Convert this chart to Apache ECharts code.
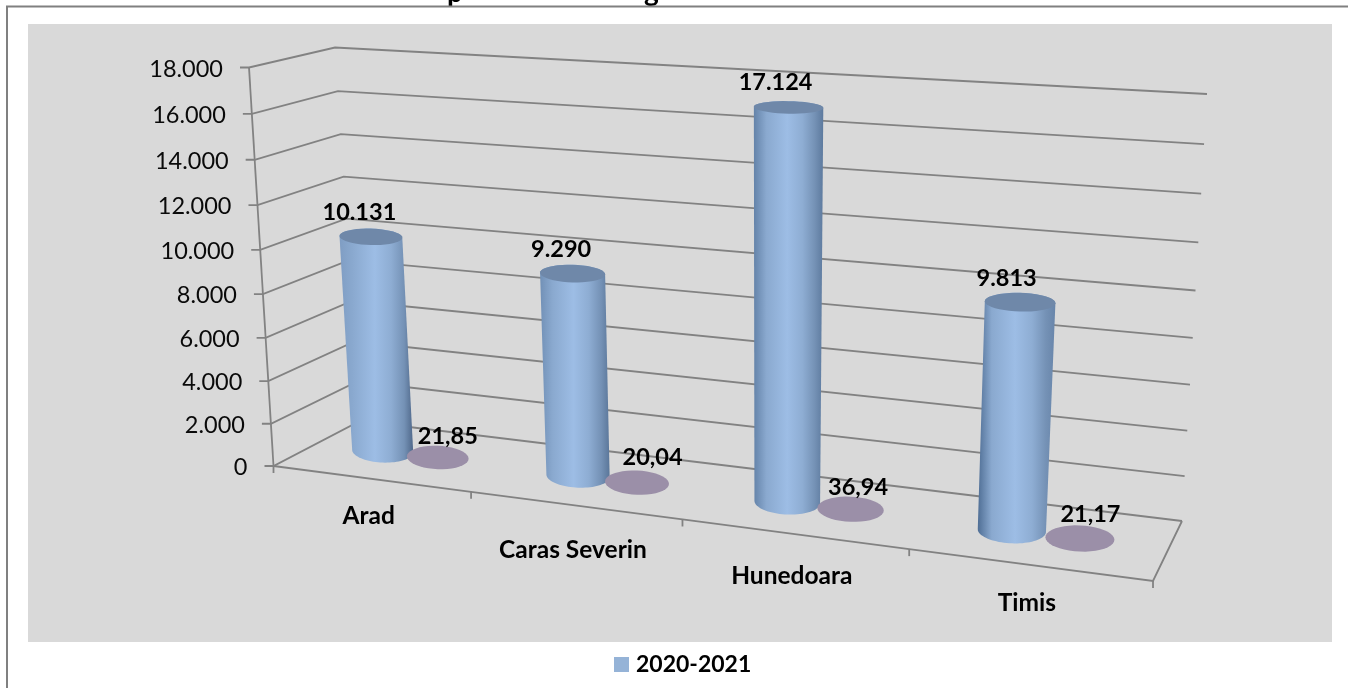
<!DOCTYPE html>
<html>
<head>
<meta charset="utf-8">
<script src="https://cdn.jsdelivr.net/npm/echarts@6/dist/echarts.min.js"></script>
<style>
  html, body { margin: 0; padding: 0; background: #fff; }
  #chart { width: 1348px; height: 688px; }
</style>
</head>
<body>
<div id="chart"></div>
<script>
// data
const counties = ['Arad', 'Caras Severin', 'Hunedoara', 'Timis']
const series2020 = [10131, 9290, 17124, 9813]
const seriesShare = [21.85, 20.04, 36.94, 21.17]
const yTicks = [0, 2000, 4000, 6000, 8000, 10000, 12000, 14000, 16000, 18000]
const legendName = '2020-2021'

// layout of the 3d box (pixel corners of the front and back walls)
const front = quad([273.5, 466], [1153, 581], [1180, 126], [249, 67.5])
const back = quad([360, 421], [1182, 521], [1207, 94], [335, 47.5])
const AXIS_FONT = 'Lato'
const LINE = '#828282'
const FLOOR_DEPTH = 0.515

// label nudges, excel placed them by hand more or less
const blueLabelShift = [[-11.5, -24.5], [-11.5, -24], [-13, -25], [-13.5, -24]]
const discLabelShift = [[10, -21], [15.5, -25.7], [7.5, -22], [10.5, -23.7]]
const catLabelDy = [37, 45, 42, 38]
const edgeLeft = ['#7f9dc3', '#7190b6', '#6483a9', '#4f6e95']
const edgeRight = ['#4f688a', '#5a7699', '#5d7a9e', '#6885aa']

// unit square -> quad
function quad(p0, p1, p2, p3) {
    const dx1 = p1[0] - p2[0], dx2 = p3[0] - p2[0], sx = p0[0] - p1[0] + p2[0] - p3[0]
    const dy1 = p1[1] - p2[1], dy2 = p3[1] - p2[1], sy = p0[1] - p1[1] + p2[1] - p3[1]
    const den = dx1 * dy2 - dx2 * dy1
    const g = (sx * dy2 - dx2 * sy) / den
    const h = (dx1 * sy - sx * dy1) / den
    const a = p1[0] - p0[0] + g * p1[0], b = p3[0] - p0[0] + h * p3[0]
    const d = p1[1] - p0[1] + g * p1[1], e = p3[1] - p0[1] + h * p3[1]
    return (u, v) => {
        const w = g * u + h * v + 1
        return [(a * u + b * v + p0[0]) / w, (d * u + e * v + p0[1]) / w]
    }
}

// u along categories, depth 0 front .. 1 back, v up the value axis
function project(u, depth, v) {
    const f = front(u, v), b = back(u, v)
    return [f[0] + (b[0] - f[0]) * depth, f[1] + (b[1] - f[1]) * depth]
}

// go from the axis scales to the unit box
function toUnit(params, api, cat, value, bandShift) {
    const rect = params.coordSys
    const c = api.coord([cat, value])
    const band = api.size([1, 0])[0]
    return {
        u: (c[0] + bandShift * band - rect.x) / rect.width,
        v: (rect.y + rect.height - c[1]) / rect.height
    }
}

const lineStyle = { stroke: LINE, lineWidth: 1.8, fill: null }
function polyline(points) {
    return { type: 'polyline', shape: { points: points }, style: lineStyle, silent: true }
}

function thousands(v) {
    return String(v).replace(/\B(?=(\d{3})+$)/g, '.')
}

function renderWall(params, api) {
    const tick = api.value(1)
    const p = toUnit(params, api, 0, tick, -0.5)
    const a = project(p.u, 0, p.v)
    const children = [
        polyline([[a[0] - 9, a[1]], a, project(p.u, 1, p.v), project(p.u + 1, 1, p.v)]),
        {
            type: 'text',
            style: {
                x: a[0] - 26, y: a[1] + 1.5, text: thousands(tick), align: 'right', verticalAlign: 'middle',
                font: '23.5px ' + AXIS_FONT, fill: '#0a0a0a'
            }
        }
    ]
    if (tick === 0) {
        // floor outline and the category ticks
        const steps = counties.map((name, i) => project((i + 1) / counties.length, 0, 0))
        children.push(polyline([project(0, 0, 0)].concat(steps).concat([project(1, 1, 0)])))
        children.push(polyline([a, [a[0], a[1] + 7]]))
        steps.forEach(s => children.push(polyline([s, [s[0], s[1] + 7]])))
        children.push(polyline([a, project(0, 0, 1)]))
    }
    return { type: 'group', children: children }
}

function renderCategory(params, api) {
    const i = api.value(0)
    const p = toUnit(params, api, i, 0, 0)
    const a = project(p.u, 0, 0)
    return {
        type: 'text',
        style: {
            x: a[0] - 2, y: a[1] + catLabelDy[i], text: counties[i], align: 'center', verticalAlign: 'middle',
            font: 'bold 24.5px ' + AXIS_FONT, fill: '#000'
        }
    }
}

function ellipsePoints(c, rx, ry, from, to) {
    const pts = []
    for (let k = 0; k <= 40; k++) {
        const t = from + (to - from) * k / 40
        pts.push([c[0] + rx[0] * Math.cos(t), c[1] + rx[1] * Math.cos(t) + ry * Math.sin(t)])
    }
    return pts
}

// one cylinder: base and top are projected, body joins their outlines
function cylinderParts(params, api, shift) {
    const i = api.value(0)
    const value = api.value(1)
    const base = toUnit(params, api, i, 0, shift)
    const top = toUnit(params, api, i, value, shift)
    const ellipseAt = (p) => {
        const halfWidth = 0.0406 - 0.005 * p.u
        const c = project(p.u, FLOOR_DEPTH, p.v)
        const r = project(p.u + halfWidth, FLOOR_DEPTH, p.v)
        // ellipses sit nearly level in the picture, keep only part of the wall slope
        const rx = [r[0] - c[0], (r[1] - c[1]) * 0.3]
        return { c: c, rx: rx, ry: Math.abs(rx[0]) * (0.38 - 0.21 * p.v) }
    }
    return { i: i, value: value, b: ellipseAt(base), t: ellipseAt(top) }
}

function renderBlue(params, api) {
    const s = cylinderParts(params, api, -0.154)
    const body = ellipsePoints(s.b.c, s.b.rx, s.b.ry, 0, Math.PI)
        .concat(ellipsePoints(s.t.c, s.t.rx, s.t.ry, Math.PI, 2 * Math.PI))
    const shift = blueLabelShift[s.i]
    return {
        type: 'group',
        children: [
            {
                type: 'polygon',
                shape: { points: body },
                style: {
                    fill: new echarts.graphic.LinearGradient(0, 0, 1, 0, [
                        { offset: 0, color: edgeLeft[s.i] },
                        { offset: 0.18, color: '#8aa9cf' },
                        { offset: 0.48, color: '#9dbde5' },
                        { offset: 0.7, color: '#8eadd3' },
                        { offset: 0.88, color: '#7491b5' },
                        { offset: 1, color: edgeRight[s.i] }
                    ])
                }
            },
            {
                type: 'polygon',
                shape: { points: ellipsePoints(s.t.c, s.t.rx, s.t.ry, 0, 2 * Math.PI) },
                style: { fill: '#6f88a9' }
            },
            {
                type: 'text',
                style: {
                    x: s.t.c[0] + shift[0], y: s.t.c[1] + shift[1], text: thousands(s.value),
                    align: 'center', verticalAlign: 'middle', font: 'bold 23.5px ' + AXIS_FONT, fill: '#000'
                }
            }
        ]
    }
}

function renderDisc(params, api) {
    const s = cylinderParts(params, api, 0.135)
    const shift = discLabelShift[s.i]
    return {
        type: 'group',
        children: [
            {
                type: 'polygon',
                shape: { points: ellipsePoints(s.t.c, s.t.rx, s.t.ry, 0, 2 * Math.PI) },
                style: { fill: '#9b8fa8' }
            },
            {
                type: 'text',
                style: {
                    x: s.t.c[0] + shift[0], y: s.t.c[1] + shift[1], text: s.value.toFixed(2).replace('.', ','),
                    align: 'center', verticalAlign: 'middle', font: 'bold 23.5px ' + AXIS_FONT, fill: '#000'
                }
            }
        ]
    }
}

const myChart = echarts.init(document.getElementById('chart'), null, { renderer: 'canvas' })

const option = {
    animation: false,
    backgroundColor: '#fff',
    grid: { left: 274, top: 67, width: 879, height: 399 },
    xAxis: { type: 'category', data: counties, show: false },
    yAxis: { type: 'value', min: 0, max: 18000, interval: 2000, show: false },
    legend: {
        data: [{ name: legendName, icon: 'rect' }],
        left: 614, top: 653, padding: 0,
        itemWidth: 15, itemHeight: 15, itemGap: 7,
        textStyle: { fontFamily: AXIS_FONT, fontWeight: 'bold', fontSize: 23, color: '#000', padding: [0, 0, 0, 2] }
    },
    graphic: [
        { type: 'rect', z: -10, shape: { x: 28, y: 24, width: 1304, height: 618 }, style: { fill: '#d9d9d9' } },
        { type: 'text', z: -9, style: { x: 447, y: -21, text: 'p', font: 'bold 28px ' + AXIS_FONT, fill: '#000' } },
        { type: 'text', z: -9, style: { x: 644, y: -22, text: 'g', font: 'bold 28px ' + AXIS_FONT, fill: '#000' } },
        { type: 'polyline', z: -8, shape: { points: [[7, 688], [7, 6.5], [1348, 6.5]] }, style: { stroke: '#808080', lineWidth: 2, fill: null } }
    ],
    series: [
        {
            name: 'walls', type: 'custom', renderItem: renderWall, silent: true, clip: false,
            data: yTicks.map(t => [0, t]), z: 2
        },
        {
            name: 'categories', type: 'custom', renderItem: renderCategory, silent: true, clip: false,
            data: counties.map((c, i) => [i, 0]), z: 2
        },
        {
            name: legendName, type: 'custom', renderItem: renderBlue, silent: true, clip: false,
            itemStyle: { color: '#95b3d7' },
            data: series2020.map((v, i) => [i, v]), z: 3
        },
        {
            name: 'pondere', type: 'custom', renderItem: renderDisc, silent: true, clip: false,
            itemStyle: { color: '#9b8fa8' },
            data: seriesShare.map((v, i) => [i, v]), z: 4
        }
    ]
}
myChart.setOption(option)
</script>
</body>
</html>
